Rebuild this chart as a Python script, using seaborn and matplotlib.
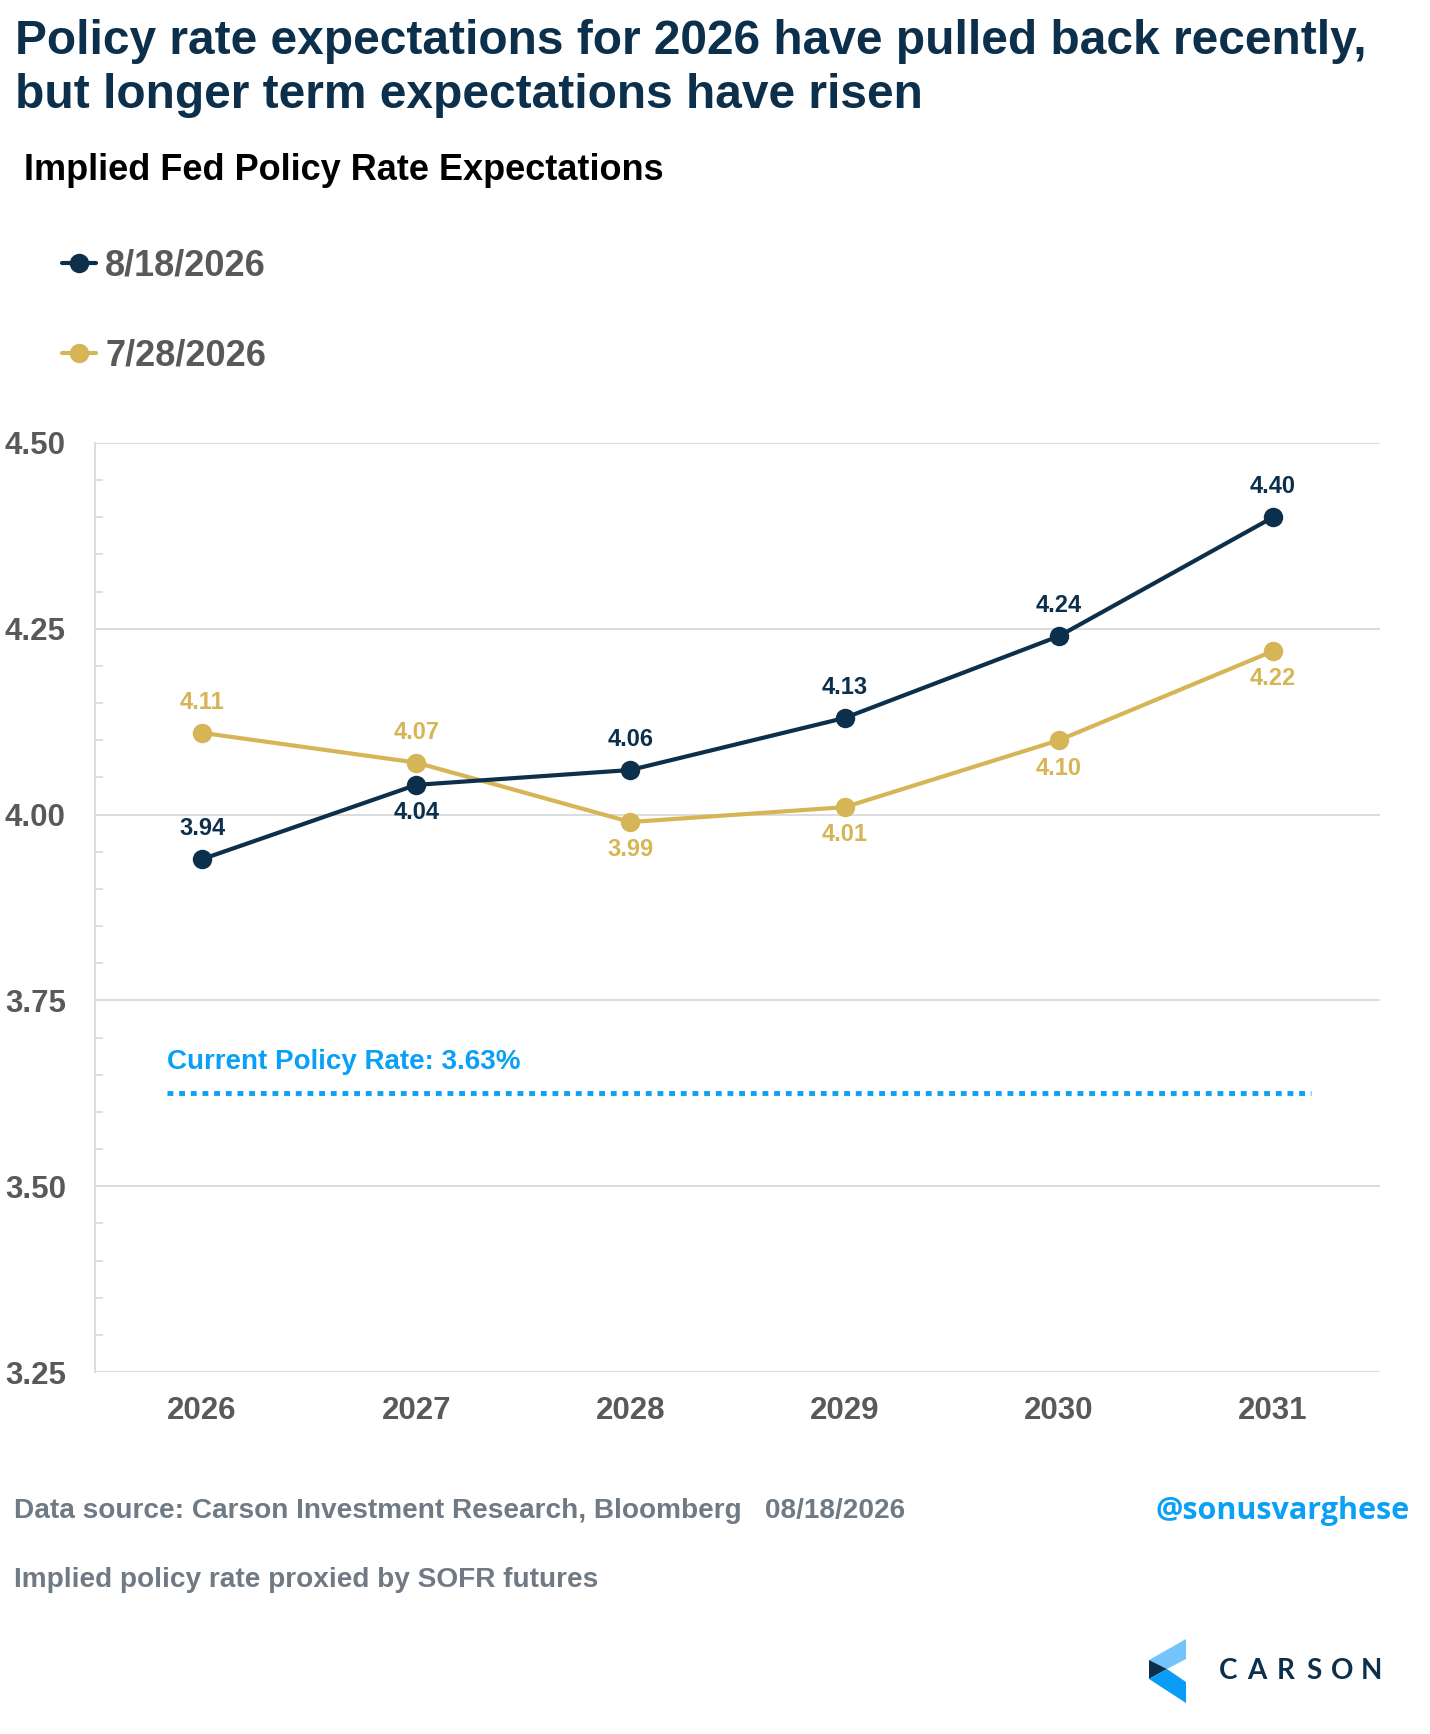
import pandas as pd
import seaborn as sns
import matplotlib.pyplot as plt
from matplotlib.lines import Line2D
from matplotlib.patches import Polygon
from matplotlib.ticker import MultipleLocator

# Data
years = [2026, 2027, 2028, 2029, 2030, 2031]
rates_aug18 = [3.94, 4.04, 4.06, 4.13, 4.24, 4.40]
rates_jul28 = [4.11, 4.07, 3.99, 4.01, 4.10, 4.22]
series_names = ["8/18/2026", "7/28/2026"]
current_rate = 3.625
current_label = "Current Policy Rate: 3.63%"
y_ticks = [3.25, 3.50, 3.75, 4.00, 4.25, 4.50]

NAVY = "#0c2f4b"
GOLD = "#d5b555"
BLUE = "#0aa0f5"
GREY = "#595959"
FOOT = "#6f7a84"

df = pd.concat([
    pd.DataFrame({"year": years, "rate": rates_aug18, "series": series_names[0]}),
    pd.DataFrame({"year": years, "rate": rates_jul28, "series": series_names[1]}),
])

sns.set_theme(style="white")
plt.rcParams["font.family"] = ["Liberation Sans", "DejaVu Sans"]
plt.rcParams["font.weight"] = "bold"

W, H = 1430, 1734
fig = plt.figure(figsize=(W / 100, H / 100), dpi=100)


def fx(x):
    return x / W


def fy(y):
    return 1 - y / H


ax = fig.add_axes([fx(95), fy(1372), fx(1380) - fx(95), fy(443) - fy(1372)])

palette = {series_names[0]: NAVY, series_names[1]: GOLD}
sns.lineplot(data=df, x="year", y="rate", hue="series", palette=palette,
             hue_order=series_names[::-1], marker="o", markersize=14,
             markeredgewidth=0, linewidth=3, legend=False, ax=ax, zorder=3)

ax.set_xlim(2025.5, 2031.5)
ax.set_ylim(3.25, 4.50)
ax.set_xticks(years)
ax.set_yticks(y_ticks)
ax.set_yticklabels([f"{v:.2f}" for v in y_ticks])
ax.yaxis.set_minor_locator(MultipleLocator(0.05))
ax.set_xlabel("")
ax.set_ylabel("")

ax.grid(axis="y", color="#d9d9d9", linewidth=1.3)
ax.set_axisbelow(True)
for s in ["top", "right", "bottom"]:
    ax.spines[s].set_visible(False)
ax.spines["left"].set_color("#d9d9d9")
ax.spines["left"].set_linewidth(1.3)
ax.tick_params(axis="y", which="major", length=0, pad=21, labelsize=22.5, labelcolor=GREY)
ax.tick_params(axis="y", which="minor", direction="in", length=6, width=1.2,
               color="#d9d9d9", left=True)
ax.tick_params(axis="x", length=0, pad=17, labelsize=22.5, labelcolor=GREY)

# point labels: +1 above, -1 below
placement = {
    series_names[0]: [1, -1, 1, 1, 1, 1],
    series_names[1]: [1, 1, -1, -1, -1, -1],
}
for name, vals in zip(series_names, [rates_aug18, rates_jul28]):
    for yr, v, side in zip(years, vals, placement[name]):
        off = 22 if side > 0 else -20
        ax.annotate(f"{v:.2f}", (yr, v), xytext=(0, off), textcoords="offset points",
                    ha="center", va="center", fontsize=17, fontweight="bold",
                    color=palette[name])

# current policy rate line
ax.axhline(current_rate, xmin=0.056, xmax=0.946, color=BLUE, linewidth=3.5,
           linestyle=(0, (1.2, 1.2)), dash_capstyle="butt", zorder=2)
ax.text(2025.836, current_rate + 0.042, current_label, color=BLUE, fontsize=20,
        fontweight="bold", ha="left", va="center")

# legend
handles = [Line2D([], [], color=palette[n], marker="o", markersize=14,
                  markeredgewidth=0, linewidth=3) for n in series_names]
leg = ax.legend(handles, series_names, loc="upper left", frameon=False,
                bbox_to_anchor=(fx(62), fy(249)), bbox_transform=fig.transFigure,
                borderaxespad=0, borderpad=0, handlelength=0.95, handletextpad=0.25,
                labelspacing=1.52, prop={"size": 26, "weight": "bold"})
for t in leg.get_texts():
    t.set_color(GREY)

# titles
fig.text(fx(15), fy(42), "Policy rate expectations for 2026 have pulled back recently,",
         fontsize=34.5, fontweight="bold", color=NAVY, va="center", ha="left")
fig.text(fx(15), fy(95), "but longer term expectations have risen",
         fontsize=34.5, fontweight="bold", color=NAVY, va="center", ha="left")
fig.text(fx(24), fy(171), "Implied Fed Policy Rate Expectations",
         fontsize=26, fontweight="bold", color="black", va="center", ha="left")

# footer
fig.text(fx(14), fy(1511), "Data source: Carson Investment Research, Bloomberg   08/18/2026",
         fontsize=20.2, fontweight="bold", color=FOOT, va="center", ha="left")
fig.text(fx(14), fy(1580), "Implied policy rate proxied by SOFR futures",
         fontsize=20.2, fontweight="bold", color=FOOT, va="center", ha="left")
fig.text(fx(1410), fy(1511), "@sonusvarghese", fontsize=22, fontweight="bold",
         color=BLUE, va="center", ha="right", family=["Open Sans", "DejaVu Sans"])

# Carson logo
logo_parts = [
    ([(1186, 1639), (1186, 1659), (1167, 1669), (1149, 1660)], "#74c5fb"),
    ([(1149, 1660), (1167, 1669), (1149, 1679)], NAVY),
    ([(1149, 1679), (1167, 1669), (1186, 1682), (1186, 1703)], "#0a9cf7"),
]
for pts, c in logo_parts:
    fig.add_artist(Polygon([(fx(a), fy(b)) for a, b in pts], closed=True,
                           facecolor=c, edgecolor="none", transform=fig.transFigure))
for i, ch in enumerate("CARSON"):
    fig.text(fx(1228 + 28.6 * i), fy(1671), ch, fontsize=20, color=NAVY,
             fontweight="bold", ha="center", va="center", family=["Lato", "DejaVu Sans"])

fig.savefig("out.png", dpi=100)
